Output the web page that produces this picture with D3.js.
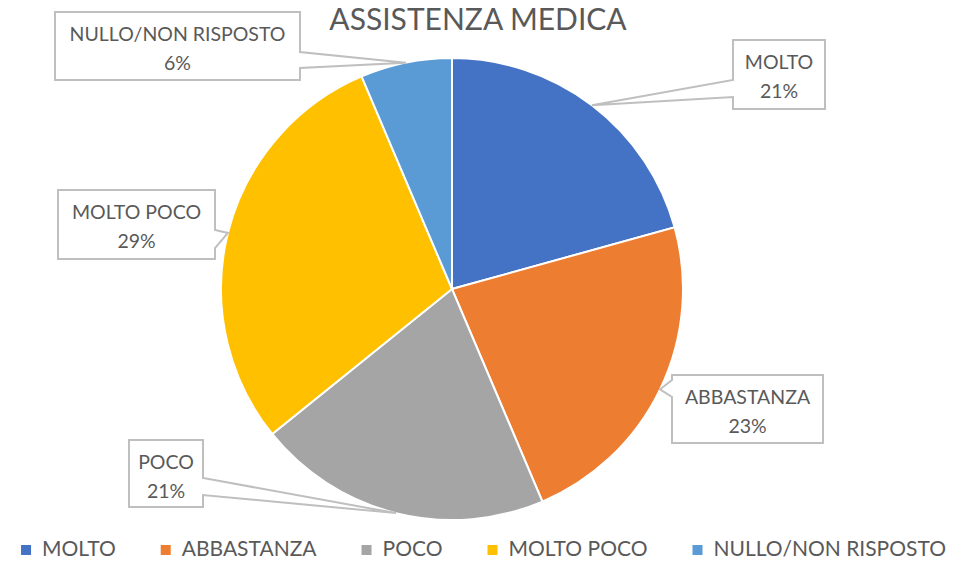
<!DOCTYPE html>
<html>
<head>
<meta charset="utf-8">
<script src="https://cdn.jsdelivr.net/npm/d3@7"></script>
<style>
  body { margin: 0; background: #fff; }
  svg { display: block; }
  text { font-family: Lato, "Open Sans", sans-serif; fill: #595959; }
</style>
</head>
<body>
<div id="chart"></div>
<script>
// data
var categories = ["MOLTO", "ABBASTANZA", "POCO", "MOLTO POCO", "NULLO/NON RISPOSTO"];
var values = [20.7, 22.9, 20.6, 29.4, 6.4];
var colors = ["#4472C4", "#ED7D31", "#A5A5A5", "#FFC000", "#5B9BD5"];

// callout boxes: x0,y0,x1,y1, side of the pointer, pointer base
var callouts = [
  {box: [733, 40, 825, 109], side: "left", base: [80, 97]},
  {box: [672, 375, 823, 443], side: "left", base: [380, 397]},
  {box: [129, 440, 203, 507], side: "right", base: [478, 495]},
  {box: [58, 190, 215, 259], side: "right", base: [230, 248]},
  {box: [55, 12, 300, 80], side: "right", base: [52, 68]}
];

(function(){
    var width = 959, height = 561;
    var cx = 452, cy = 289, radius = 231;

    var svg = d3.select("#chart").append("svg")
        .attr("width", width)
        .attr("height", height);

    //title
    svg.append("text")
        .attr("x", 478)
        .attr("y", 30)
        .attr("text-anchor", "middle")
        .style("font-size", "30px")
        .text("ASSISTENZA MEDICA");

    var total = d3.sum(values);
    var pie = d3.pie().sort(null).value(function(d){ return d; });
    var arcs = pie(values);
    var arc = d3.arc().innerRadius(0).outerRadius(radius);
    var edge = d3.arc().innerRadius(radius).outerRadius(radius);

    var g = svg.append("g").attr("transform", "translate(" + cx + "," + cy + ")");
    g.selectAll(".slice")
        .data(arcs)
        .enter()
        .append("path")
        .attr("class", "slice")
        .attr("d", arc)
        .attr("fill", function(d, i){ return colors[i]; })
        .style("stroke", "#fff")
        .style("stroke-width", "2px");

    //callouts
    arcs.forEach(function(d, i){
        var c = callouts[i];
        var b = c.box;
        var p = edge.centroid(d);
        var tx = p[0] + cx, ty = p[1] + cy;
        var path;
        if (c.side === "right"){
            path = "M" + b[0] + "," + b[1] + "H" + b[2] + "V" + c.base[0] +
                "L" + tx + "," + ty + "L" + b[2] + "," + c.base[1] +
                "V" + b[3] + "H" + b[0] + "Z";
        } else {
            path = "M" + b[0] + "," + b[1] + "H" + b[2] + "V" + b[3] + "H" + b[0] +
                "V" + c.base[1] + "L" + tx + "," + ty + "L" + b[0] + "," + c.base[0] + "Z";
        }
        svg.append("path")
            .attr("d", path)
            .attr("fill", "#fff")
            .attr("stroke", "#BFBFBF")
            .attr("stroke-width", 2)
            .attr("stroke-linejoin", "miter");
        var mx = (b[0] + b[2]) / 2;
        svg.append("text")
            .attr("x", mx).attr("y", b[1] + 29)
            .attr("text-anchor", "middle")
            .style("font-size", "19.5px")
            .text(categories[i]);
        svg.append("text")
            .attr("x", mx).attr("y", b[1] + 58)
            .attr("text-anchor", "middle")
            .style("font-size", "19.5px")
            .text(Math.round(values[i] / total * 100) + "%");
    });

    //legend
    var legend = svg.append("g");
    var x = 0;
    var gap = 45;
    categories.forEach(function(name, i){
        legend.append("rect")
            .attr("x", x).attr("y", 545)
            .attr("width", 10).attr("height", 10)
            .attr("fill", colors[i]);
        var t = legend.append("text")
            .attr("x", x + 21).attr("y", 556)
            .style("font-size", "21px")
            .text(name);
        x += 21 + t.node().getComputedTextLength() + gap;
    });
    x -= gap;
    legend.attr("transform", "translate(" + ((width - x) / 2 + 4) + ",0)");
})();
</script>
</body>
</html>
